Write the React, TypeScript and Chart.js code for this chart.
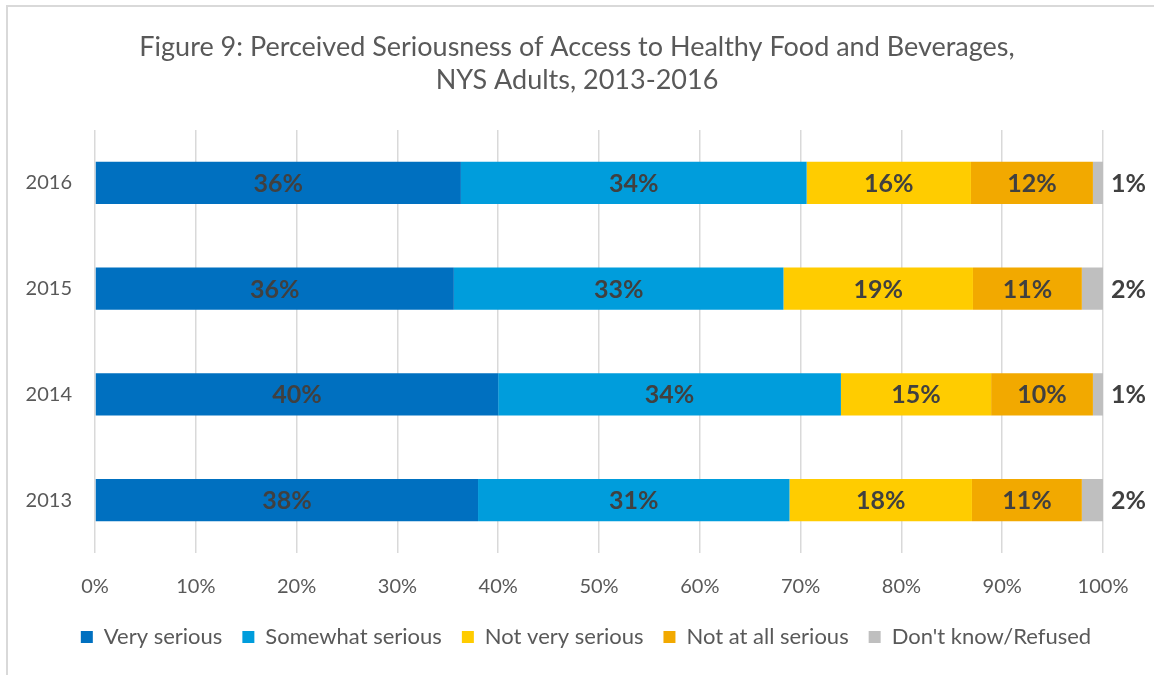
import React, { useEffect, useRef } from 'react';
import { Chart, registerables } from 'chart.js';

Chart.register(...registerables);

const titleLines = [
  'Figure 9: Perceived Seriousness of Access to Healthy Food and Beverages,',
  'NYS Adults, 2013-2016',
];
const categories = ['2016', '2015', '2014', '2013'];
const seriesNames = ['Very serious', 'Somewhat serious', 'Not very serious', 'Not at all serious', "Don't know/Refused"];
const verySerious = [36.3, 35.6, 40.0, 38.0];
const somewhatSerious = [34.3, 32.7, 34.0, 30.9];
const notVerySerious = [16.3, 18.8, 14.9, 18.1];
const notAtAllSerious = [12.1, 10.8, 10.1, 10.9];
const dontKnow = [1.0, 2.1, 1.0, 2.1];
const seriesColors = ['#0070C0', '#009DDC', '#FFCC00', '#F2A900', '#BFBFBF'];

const FONT = 'Lato, "Open Sans", sans-serif';

const labelPlugin = {
  id: 'barLabels',
  afterLayout(chart: any) {
    if (chart.legend) {
      chart.legend.left = 18;
      chart.legend.right = 1154;
      chart.legend.width = 1136;
    }
  },
  afterDatasetsDraw(chart: any) {
    const ctx = chart.ctx;
    ctx.save();
    ctx.font = `bold 25px ${FONT}`;
    ctx.fillStyle = '#404040';
    ctx.textBaseline = 'middle';
    const n = chart.data.datasets.length;
    chart.data.datasets.forEach((ds: any, di: number) => {
      const meta = chart.getDatasetMeta(di);
      meta.data.forEach((bar: any, i: number) => {
        const v = ds.data[i];
        const text = Math.round(v) + '%';
        const { x, y, base } = bar.getProps(['x', 'y', 'base'], true);
        if (di === n - 1) {
          ctx.textAlign = 'left';
          ctx.fillText(text, x + 8, y + 1);
        } else {
          ctx.textAlign = 'center';
          ctx.fillText(text, (x + base) / 2, y + 1);
        }
      });
    });
    ctx.restore();
  },
};

export default function App() {
  const canvasRef = useRef<HTMLCanvasElement | null>(null);

  useEffect(() => {
    const canvas = canvasRef.current;
    if (!canvas) return;
    const allSeries = [verySerious, somewhatSerious, notVerySerious, notAtAllSerious, dontKnow];
    const chart = new Chart(canvas, {
      type: 'bar',
      data: {
        labels: categories,
        datasets: allSeries.map((d, i) => ({
          label: seriesNames[i],
          data: d,
          backgroundColor: seriesColors[i],
          borderWidth: 0,
          barPercentage: 0.4,
          categoryPercentage: 1.0,
        })),
      },
      options: {
        indexAxis: 'y',
        responsive: false,
        animation: false,
        layout: { padding: { left: 0, right: 0, top: 0, bottom: 17 } },
        scales: {
          x: {
            stacked: true,
            min: 0,
            max: 100,
            ticks: {
              stepSize: 10,
              callback: (v: any) => v + '%',
              color: '#595959',
              font: { family: FONT, size: 20 },
              padding: 22,
              maxRotation: 0,
            },
            grid: { color: '#D9D9D9', lineWidth: 1.5, drawTicks: false },
            border: { display: false },
            afterFit: (scale: any) => {
              scale.height = 53;
            },
          },
          y: {
            stacked: true,
            ticks: {
              color: '#595959',
              font: { family: FONT, size: 20 },
              padding: 23,
            },
            grid: { display: false, drawTicks: false },
            border: { display: false },
            afterFit: (scale: any) => {
              scale.width = 95;
            },
          },
          yRight: {
            type: 'category',
            position: 'right',
            display: true,
            ticks: { display: false },
            grid: { display: false, drawTicks: false },
            border: { display: false },
            afterFit: (scale: any) => {
              scale.width = 51;
            },
          },
        },
        plugins: {
          title: {
            display: true,
            text: titleLines,
            color: '#595959',
            font: { family: FONT, size: 27, weight: 'normal', lineHeight: 1.2222 },
            padding: { top: 30.5, bottom: 33.5 },
          },
          legend: {
            position: 'bottom',
            labels: {
              boxWidth: 12,
              boxHeight: 12,
              color: '#595959',
              font: { family: FONT, size: 22 },
              padding: 20,
            },
          },
          tooltip: { enabled: false },
        },
      },
      plugins: [labelPlugin],
    } as any);
    return () => chart.destroy();
  }, []);

  return (
    <div style={{ position: 'fixed', left: 0, top: 0, width: 1154, height: 675, background: '#fff', overflow: 'hidden' }}>
      <div
        style={{
          position: 'absolute',
          left: 6,
          top: 5,
          right: -10,
          bottom: -10,
          borderLeft: '2px solid #D9D9D9',
          borderTop: '2px solid #D9D9D9',
        }}
      />
      <canvas ref={canvasRef} width={1154} height={675} style={{ position: 'absolute', left: 0, top: 0 }} />
    </div>
  );
}
